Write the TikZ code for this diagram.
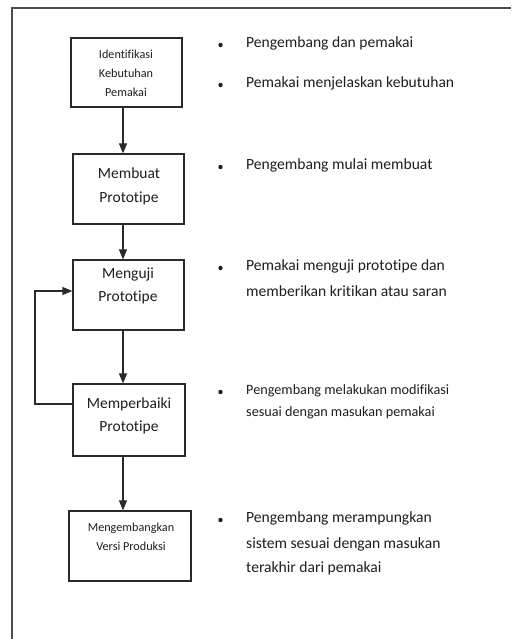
\documentclass[tikz,border=0pt]{standalone}
\usepackage{fontspec}
\setmainfont{Carlito}[Ligatures=NoCommon]
\usetikzlibrary{arrows.meta}
\definecolor{ink}{HTML}{1E1E1E}
\definecolor{rule}{HTML}{2A2A2A}
\tikzset{
  stepbox/.style={draw=rule, line width=1.2pt, fill=white, inner sep=0pt},
  boxtext/.style={inner sep=0pt, anchor=mid, text=ink},
  bigtext/.style={boxtext, font=\fontsize{15.5}{18}\selectfont},
  smalltext/.style={boxtext, font=\fontsize{12.2}{14}\selectfont},
  flow/.style={draw=rule, line width=1.2pt, -{Triangle[width=8pt,length=10pt]}},
  note/.style={anchor=mid west, inner sep=0pt, text=ink, font=\fontsize{15.6}{18}\selectfont},
  dot/.style={circle, fill=ink, inner sep=0pt, minimum size=4.4pt},
}
\begin{document}
\begin{tikzpicture}[x=1pt, y=-1pt]
  \useasboundingbox (0,0) rectangle (515,639);
  % open frame: top and left edges only
  \coordinate (fl) at (12,639);
  \coordinate (fc) at (12,8);
  \coordinate (fr) at (511,8);
  \draw[draw=black!70, line width=1.6pt] (fl) -- (fc) -- (fr);

  % process boxes
  \node[stepbox, minimum width=111pt, minimum height=69pt] (b1) at (126.5,72.5) {};
  \node[stepbox, minimum width=111pt, minimum height=70pt] (b2) at (128.5,189) {};
  \node[stepbox, minimum width=111pt, minimum height=70pt] (b3) at (128.5,295) {};
  \node[stepbox, minimum width=112pt, minimum height=72pt] (b4) at (129,420) {};
  \node[stepbox, minimum width=122pt, minimum height=70pt] (b5) at (130,546) {};

  % box captions, one node per line
  \node[smalltext] (t1a) at (126,56) {Identifikasi};
  \node[smalltext] (t1b) at (126,75.5) {Kebutuhan};
  \node[smalltext] (t1c) at (126,94) {Pemakai};
  \node[bigtext]   (t2a) at (129,176) {Membuat};
  \node[bigtext]   (t2b) at (129,200) {Prototipe};
  \node[bigtext]   (t3a) at (128,276) {Menguji};
  \node[bigtext]   (t3b) at (128,299) {Prototipe};
  \node[bigtext]   (t4a) at (129,406) {Memperbaiki};
  \node[bigtext]   (t4b) at (129,429) {Prototipe};
  \node[smalltext] (t5a) at (131,529) {Mengembangkan};
  \node[smalltext] (t5b) at (131,548) {Versi Produksi};

  % vertical flow arrows
  \coordinate (ax) at (123,0);
  \draw[flow] (b1.south -| ax) -- (b2.north -| ax);
  \draw[flow] (b2.south -| ax) -- (b3.north -| ax);
  \draw[flow] (b3.south -| ax) -- (b4.north -| ax);
  \draw[flow] (b4.south -| ax) -- (b5.north -| ax);

  % feedback loop from repair back to testing
  \coordinate (lx) at (35,0);
  \coordinate (ly4) at (0,404);
  \coordinate (ly3) at (0,291);
  \draw[flow] (b4.west |- ly4) -- (lx |- ly4) -- (lx |- ly3) -- (b3.west |- ly3);

  % bullet notes
  \node[dot] (d1) at (220.5,45) {};
  \node[note] (n1) at (246,45) {Pengembang dan pemakai};
  \node[dot] (d2) at (220.5,85) {};
  \node[note] (n2) at (246,85) {Pemakai menjelaskan kebutuhan};
  \node[dot] (d3) at (220.5,167) {};
  \node[note] (n3) at (246,167) {Pengembang mulai membuat};
  \node[dot] (d4) at (220.5,268) {};
  \node[note] (n4a) at (246,268) {Pemakai menguji prototipe dan};
  \node[note] (n4b) at (246,294) {memberikan kritikan atau saran};
  \node[dot] (d5) at (220.5,392) {};
  \node[note, font=\fontsize{14.2}{16}\selectfont] (n5a) at (246,392) {Pengembang melakukan modifikasi};
  \node[note, font=\fontsize{14.2}{16}\selectfont] (n5b) at (246,414) {sesuai dengan masukan pemakai};
  \node[dot] (d6) at (220.5,520) {};
  \node[note] (n6a) at (246,520) {Pengembang merampungkan};
  \node[note] (n6b) at (246,546) {sistem sesuai dengan masukan};
  \node[note] (n6c) at (246,570) {terakhir dari pemakai};
\end{tikzpicture}
\end{document}
